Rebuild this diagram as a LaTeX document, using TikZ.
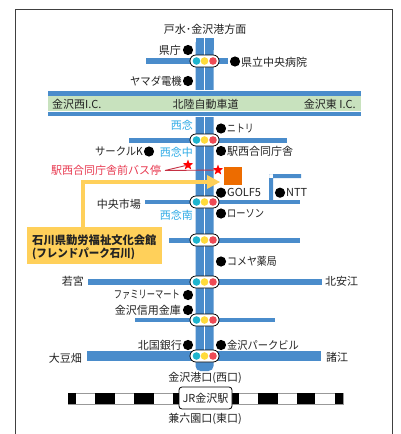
\documentclass[tikz,border=0pt]{standalone}
\usepackage{fontspec}
\usepackage{graphicx}
\setmainfont{Noto Sans CJK JP}
\definecolor{roadc}{HTML}{4A8CCB}
\definecolor{greenc}{HTML}{C8E2BE}
\definecolor{sigc}{HTML}{1FB5CE}
\definecolor{sigy}{HTML}{FFDB3A}
\definecolor{sigr}{HTML}{EE4B55}
\definecolor{skyc}{HTML}{2DAAE6}
\definecolor{redc}{HTML}{E8384F}
\definecolor{yelc}{HTML}{FFD05A}
\definecolor{orac}{HTML}{ED6C00}
\definecolor{txtc}{HTML}{222222}
\usetikzlibrary{shapes.geometric}
\tikzset{
 road/.style={draw=none,fill=roadc},
 sig/.style={draw=black,fill=white,line width=.8pt,rounded corners=5.8pt,minimum width=29pt,minimum height=12pt,inner sep=0pt},
 lamp/.style={circle,minimum size=7.6pt,inner sep=0pt,fill=#1},
 spot/.style={circle,fill=black,minimum size=10.2pt,inner sep=0pt},
 lab/.style={inner sep=0pt,text=txtc,font=\fontsize{11}{11}\selectfont},
 labl/.style={lab,anchor=west},
 labr/.style={lab,anchor=east},
 skylab/.style={lab,text=skyc,anchor=east},
 boxlab/.style={anchor=west,inner sep=0pt,text=txtc,font=\fontsize{11.3}{11.3}\selectfont\bfseries},
 starmark/.style={star,star points=5,star point ratio=2.4,fill=red,inner sep=0pt,minimum size=11pt}
}
\newcommand{\narrowtext}[2]{\scalebox{#1}[1]{#2}}
\newcommand{\crossroad}[4]{\fill[road] (#1,#3-#4/2) rectangle (#2,#3+#4/2);}
\newcommand{\signal}[2]{\node[sig] (s#1) at (204.5,#2) {};
 \node[lamp=sigc] (sc#1) at (196.5,#2) {};
 \node[lamp=sigy] (sy#1) at (204.5,#2) {};
 \node[lamp=sigr] (sr#1) at (213,#2) {};}
\begin{document}
\begin{tikzpicture}[x=1pt,y=-1pt]
\useasboundingbox (0,0) rectangle (400,434);
\fill[white] (0,0) rectangle (400,434);
\draw[draw=black!75,line width=1pt] (15,434) -- (15,9.3) -- (392,9.3) -- (392,434);
% crossroads
\crossroad{146}{192}{61}{5.5}
\crossroad{217}{228}{61}{5.5}
\crossroad{129}{287}{140}{5}
\crossroad{145}{300}{202}{4}
\fill[road] (269,202) rectangle (273,174) (269,174) rectangle (301,178);
\crossroad{169}{300}{240}{5}
\crossroad{88}{322}{282}{6.5}
\crossroad{135}{275}{320}{4}
\crossroad{87}{321}{356}{9.5}
% main road
\fill[road,rounded corners=5pt] (195.5,38) -- (213.5,38) -- (213.5,371) -- (195.5,371) -- cycle;
\fill[road] (195.5,38) rectangle (213.5,50);
\fill[white] (203.6,38) rectangle (205.4,362);
% highway
\fill[white] (48,90) rectangle (361,117);
\fill[road] (48,91) rectangle (361,95.5);
\fill[greenc] (48,96) rectangle (361,111);
\fill[road] (48,111.5) rectangle (361,116);
% signals
\signal{a}{61}\signal{b}{140}\signal{c}{202}\signal{d}{240}\signal{e}{282}\signal{f}{320}\signal{g}{356}
% spots
\node[spot] (d1) at (188,50) {};
\node[spot] (d2) at (235,61.5) {};
\node[spot] (d3) at (188,81) {};
\node[spot] (d4) at (221,128.5) {};
\node[spot] (d5) at (149,151.5) {};
\node[spot] (d6) at (221,151) {};
\node[spot] (d7) at (221,192.7) {};
\node[spot] (d8) at (280,192.7) {};
\node[spot] (d9) at (221,213.5) {};
\node[spot] (d10) at (221,261.5) {};
\node[spot] (d11) at (188,295) {};
\node[spot] (d12) at (188,310) {};
\node[spot] (d13) at (188,345) {};
\node[spot] (d14) at (221,345) {};
% labels
\node[lab] (t0) at (205,29) {戸水･金沢港方面};
\node[labr] (t1) at (181,50) {県庁};
\node[labl] (t2) at (241,62) {県立中央病院};
\node[labr] (t3) at (182,81) {\narrowtext{.94}{ヤマダ電機}};
\node[labl] (t4) at (52,104) {金沢西I.C.};
\node[lab] (t5) at (205.5,104) {北陸自動車道};
\node[lab,anchor=east] (t6) at (356,104) {金沢東 I.C.};
\node[skylab] (t7) at (193,125) {西念};
\node[labl] (t8) at (227,128.5) {\narrowtext{.8}{ニトリ}};
\node[labr] (t9) at (143,151.5) {\narrowtext{.94}{サークルK}};
\node[skylab] (t10) at (193,152) {西念中};
\node[labl] (t11) at (227,151) {駅西合同庁舎};
\node[labl,text=redc] (t12) at (51,170) {駅西合同庁舎前バス停};
\node[labl] (t13) at (227,192.7) {GOLF5};
\node[labl] (t14) at (286,192.7) {NTT};
\node[labr] (t15) at (141,204) {中央市場};
\node[skylab] (t16) at (193,215) {西念南};
\node[labl] (t17) at (227,214) {\narrowtext{.84}{ローソン}};
\node[labl] (t18) at (227,261.5) {\narrowtext{.9}{コメヤ薬局}};
\node[labr] (t19) at (84,281.5) {若宮};
\node[labl] (t20) at (325,281.5) {北安江};
\node[labr] (t21) at (180,295) {\narrowtext{.75}{ファミリーマート}};
\node[labr] (t22) at (181,310) {金沢信用金庫};
\node[labr] (t23) at (182,345) {北国銀行};
\node[labl] (t24) at (227,345) {\narrowtext{.93}{金沢パークビル}};
\node[labr] (t25) at (82,358) {大豆畑};
\node[labl] (t26) at (326,357) {諸江};
\node[lab] (t27) at (205,378) {金沢港口(西口)};
\node[lab] (t28) at (205,419) {兼六園口(東口)};
% bus stop
\node[starmark] (st1) at (188,165) {};
\node[starmark] (st2) at (218,170) {};
\coordinate (lf) at (165,170.5);
\draw[redc!85!black,line width=.9pt] (lf) -- (st2);
\draw[redc!85!black,line width=.9pt] (lf) -- (st1);
% destination
\node[fill=orac,minimum size=18pt,inner sep=0pt] (dest) at (233,176) {};
\node[fill=yelc,minimum width=135pt,minimum height=37pt,inner sep=0pt,anchor=north west] (box) at (27,227) {};
\node[boxlab] (bt1) at (32,240) {石川県勤労福祉文化会館};
\node[boxlab] (bt2) at (32,254) {\narrowtext{.93}{(フレンドパーク石川)}};
\coordinate (ah) at (220,182);
\coordinate (bend) at (83,182);
\coordinate (tailend) at (208,182);
\draw[yelc,line width=3.5pt] (bend |- box.north) -- (bend) -- (tailend);
\fill[yelc] (207,175) -- (ah) -- (207,189) -- cycle;
% rail
\fill[white,draw=black!40,line width=.5pt] (68,393) rectangle (343,404);
\foreach \a/\b in {68/76,95/115,134/154,173/180,232/238.5,258/278,297/315,334.5/343}
  \fill[black] (\a,393) rectangle (\b,404);
\node[draw=black,fill=white,rounded corners=3pt,line width=.8pt,minimum width=53pt,minimum height=22pt,inner sep=0pt,font=\fontsize{11}{11}\selectfont,text=txtc] (jr) at (205.5,398) {JR金沢駅};
\end{tikzpicture}
\end{document}
